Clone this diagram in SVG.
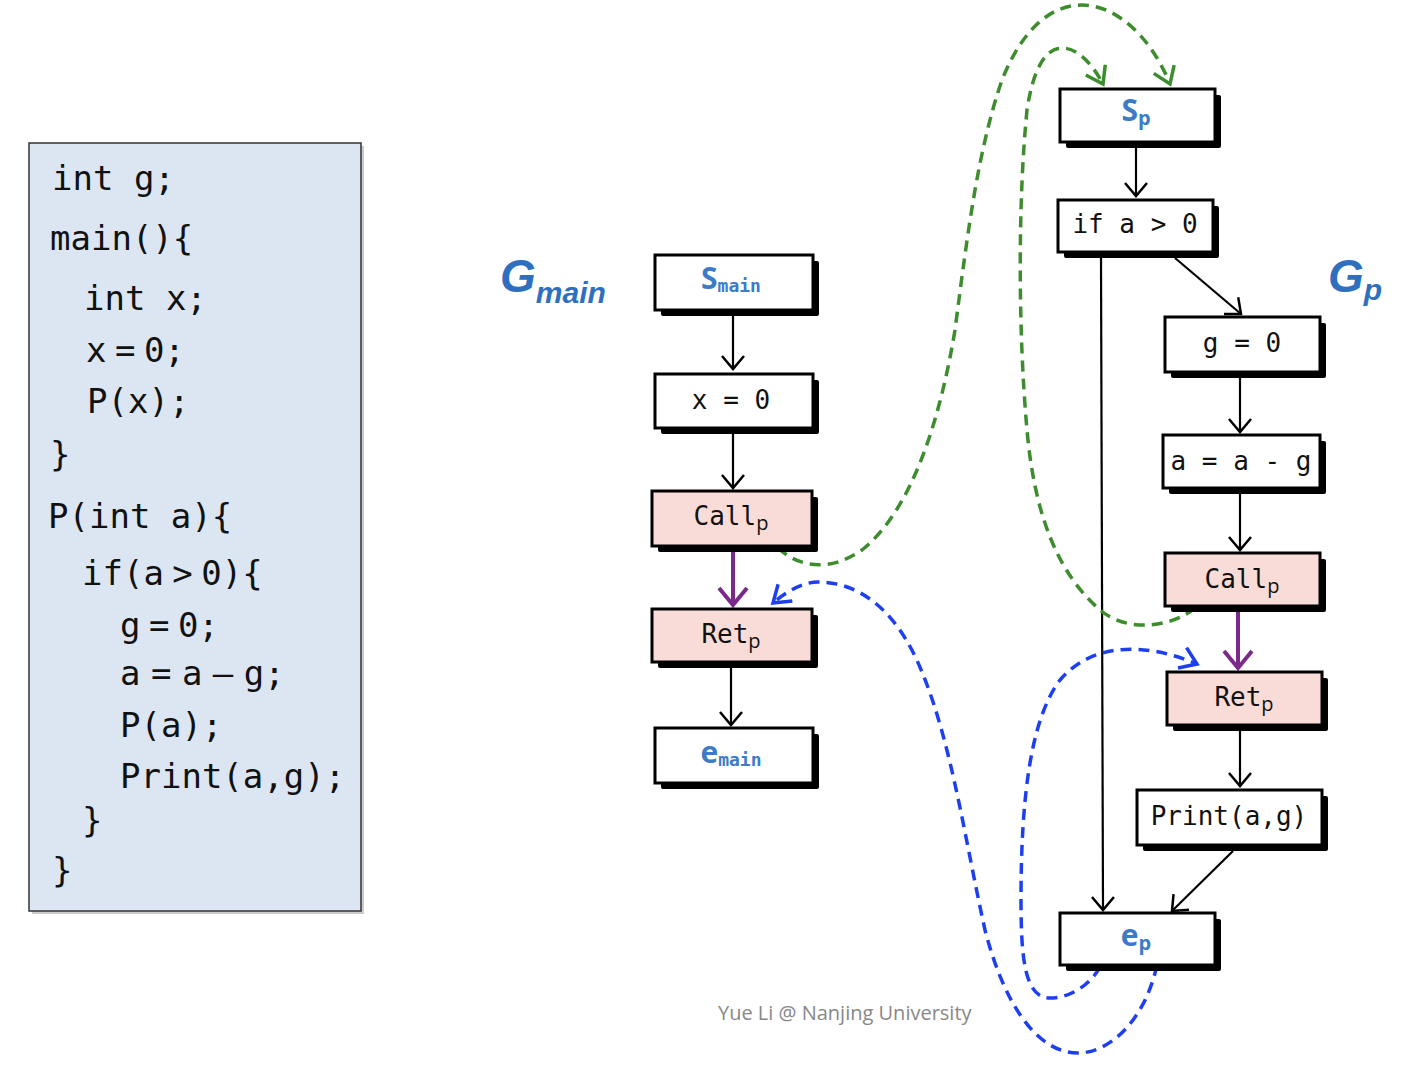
<svg xmlns="http://www.w3.org/2000/svg" width="1422" height="1070" viewBox="0 0 1422 1070">
<style>
.code{font-family:"DejaVu Sans Mono","Liberation Mono",monospace;font-size:34px;fill:#111}
.ns{word-spacing:-12px}
.ns2{word-spacing:-10px}
.box{stroke:#000;stroke-width:3}
.plain{fill:#fff}
.pink{fill:#f9dcd7}
.shadow{fill:#000}
.nt{font-family:"DejaVu Sans Mono","Liberation Mono",monospace;font-size:26px;fill:#111;text-anchor:middle}
.sub{font-family:"Open Sans","Liberation Sans",sans-serif;font-size:20px}
.bl{font-family:"Open Sans","Liberation Sans",sans-serif;font-size:30px;font-weight:bold;fill:#3b7bc8;text-anchor:middle}
.blsub{font-family:"DejaVu Sans Mono","Liberation Mono",monospace;font-size:18px;font-weight:bold}
.blp{font-family:"Open Sans","Liberation Sans",sans-serif;font-size:20px;font-weight:bold}
.g{font-family:"Liberation Sans",Arial,sans-serif;font-weight:bold;font-style:italic;fill:#2f6fbf}
.e{fill:none;stroke:#000;stroke-width:2.2}
.pu{fill:none;stroke:#7b2a8c;stroke-width:4}
.gd{fill:none;stroke:#3d8c2d;stroke-width:3.5;stroke-dasharray:11 7}
.bd{fill:none;stroke:#1e3ff0;stroke-width:3.5;stroke-dasharray:11 7}
</style>
<defs>
<marker id="ak" viewBox="0 0 16 24" refX="14" refY="12" markerWidth="16" markerHeight="24" markerUnits="userSpaceOnUse" orient="auto">
<path d="M1,1 L14,12 L1,23" fill="none" stroke="#000" stroke-width="2.5"/>
</marker>
<marker id="ap" viewBox="0 0 22 32" refX="19" refY="16" markerWidth="22" markerHeight="32" markerUnits="userSpaceOnUse" orient="auto">
<path d="M2,2 L19,16 L2,30" fill="none" stroke="#7b2a8c" stroke-width="4"/>
</marker>
<marker id="ag" viewBox="0 0 20 26" refX="17" refY="13" markerWidth="20" markerHeight="26" markerUnits="userSpaceOnUse" orient="auto">
<path d="M1,2 L17,13 L1,24" fill="none" stroke="#3d8c2d" stroke-width="3.5"/>
</marker>
<marker id="ab" viewBox="0 0 20 26" refX="17" refY="13" markerWidth="20" markerHeight="26" markerUnits="userSpaceOnUse" orient="auto">
<path d="M1,2 L17,13 L1,24" fill="none" stroke="#1e3ff0" stroke-width="3.5"/>
</marker>
</defs>
<rect width="1422" height="1070" fill="#fff"/>

<g id="code">
<rect x="32" y="146" width="332" height="768" fill="#999" opacity="0.5"/>
<rect x="29" y="143" width="332" height="768" fill="#dce6f2" stroke="#333" stroke-width="1.5"/>
<text class="code" x="52" y="190">int g;</text>
<text class="code" x="50" y="250">main(){</text>
<text class="code" x="84" y="310">int x;</text>
<text class="code ns" x="86" y="362">x = 0;</text>
<text class="code" x="87" y="413">P(x);</text>
<text class="code" x="50" y="466">}</text>
<text class="code" x="48" y="528">P(int a){</text>
<text class="code ns" x="82" y="585">if(a &gt; 0){</text>
<text class="code ns" x="120" y="637">g = 0;</text>
<text class="code ns2" x="120" y="685">a = a – g;</text>
<text class="code" x="120" y="737">P(a);</text>
<text class="code" x="120" y="788">Print(a,g);</text>
<text class="code" x="82" y="832">}</text>
<text class="code" x="52" y="882">}</text>
</g>

<g id="label-gmain"><text class="g" x="500" y="292" font-size="46">G<tspan font-size="30" dy="11">main</tspan></text></g>
<g id="label-gp"><text class="g" x="1328" y="292" font-size="46">G<tspan font-size="30" dy="8">p</tspan></text></g>

<g id="connectors">
<path class="e" d="M733,316 L733,369" marker-end="url(#ak)"/>
<path class="e" d="M733,434 L733,488" marker-end="url(#ak)"/>
<path class="pu" d="M733,546 L733,605" marker-end="url(#ap)"/>
<path class="e" d="M731,668 L731,725" marker-end="url(#ak)"/>
<path class="e" d="M1136,148 L1136,196" marker-end="url(#ak)"/>
<path class="e" d="M1175,258 L1241,314" marker-end="url(#ak)"/>
<path class="e" d="M1240,378 L1240,432" marker-end="url(#ak)"/>
<path class="e" d="M1240,494 L1240,550" marker-end="url(#ak)"/>
<path class="pu" d="M1238,606 L1238,668" marker-end="url(#ap)"/>
<path class="e" d="M1240,731 L1240,786" marker-end="url(#ak)"/>
<path class="e" d="M1233,851 L1172,911" marker-end="url(#ak)"/>
<path class="e" d="M1101,258 L1103,910" marker-end="url(#ak)"/>
<path class="gd" d="M778,548 C800,568 830,572 862,550 C912,510 940,420 955,330 C968,230 978,150 1002,80 C1022,30 1050,5 1082,5 C1115,5 1150,35 1170,84" marker-end="url(#ag)"/>
<path class="gd" d="M1195,608 C1175,625 1130,635 1100,610 C1060,575 1035,520 1027,430 C1018,330 1018,200 1027,110 C1033,70 1045,48 1062,48 C1078,48 1093,65 1103,84" marker-end="url(#ag)"/>
<path class="bd" d="M1157,965 C1145,1020 1110,1053 1078,1053 C1035,1053 1003,1000 985,930 C965,840 952,745 922,672 C895,605 855,582 818,582 C802,582 786,592 773,603" marker-end="url(#ab)"/>
<path class="bd" d="M1100,967 C1090,985 1070,998 1050,998 C1025,998 1021,960 1021,900 C1021,800 1030,720 1060,680 C1090,645 1140,640 1197,664" marker-end="url(#ab)"/>
</g>

<g id="n-smain">
<rect class="shadow" x="661" y="261" width="158" height="55" rx="2"/>
<rect class="box plain" x="655" y="255" width="158" height="55"/>
<text class="bl" x="731" y="289">S<tspan class="blsub" dy="3">main</tspan></text>
</g>
<g id="n-x0">
<rect class="shadow" x="661" y="380" width="158" height="54" rx="2"/>
<rect class="box plain" x="655" y="374" width="158" height="54"/>
<text class="nt" x="731" y="409">x = 0</text>
</g>
<g id="n-callmain">
<rect class="shadow" x="658" y="497" width="160" height="55" rx="2"/>
<rect class="box pink" x="652" y="491" width="160" height="55"/>
<text class="nt" x="731" y="525">Call<tspan class="sub" dy="5">p</tspan></text>
</g>
<g id="n-retmain">
<rect class="shadow" x="658" y="615" width="160" height="53" rx="2"/>
<rect class="box pink" x="652" y="609" width="160" height="53"/>
<text class="nt" x="731" y="643">Ret<tspan class="sub" dy="5">p</tspan></text>
</g>
<g id="n-emain">
<rect class="shadow" x="661" y="734" width="158" height="55" rx="2"/>
<rect class="box plain" x="655" y="728" width="158" height="55"/>
<text class="bl" x="731" y="763">e<tspan class="blsub" dy="3">main</tspan></text>
</g>

<g id="n-sp">
<rect class="shadow" x="1066" y="95" width="155" height="53" rx="2"/>
<rect class="box plain" x="1060" y="89" width="155" height="53"/>
<text class="bl" x="1136" y="121">S<tspan class="blp" dy="4">p</tspan></text>
</g>
<g id="n-if">
<rect class="shadow" x="1064" y="206" width="155" height="52" rx="2"/>
<rect class="box plain" x="1058" y="200" width="155" height="52"/>
<text class="nt" x="1135" y="233">if a &gt; 0</text>
</g>
<g id="n-g0">
<rect class="shadow" x="1171" y="323" width="155" height="55" rx="2"/>
<rect class="box plain" x="1165" y="317" width="155" height="55"/>
<text class="nt" x="1242" y="352">g = 0</text>
</g>
<g id="n-aag">
<rect class="shadow" x="1169" y="441" width="157" height="53" rx="2"/>
<rect class="box plain" x="1163" y="435" width="157" height="53"/>
<text class="nt" x="1241" y="470">a = a - g</text>
</g>
<g id="n-callp">
<rect class="shadow" x="1171" y="559" width="155" height="53" rx="2"/>
<rect class="box pink" x="1165" y="553" width="155" height="53"/>
<text class="nt" x="1242" y="588">Call<tspan class="sub" dy="5">p</tspan></text>
</g>
<g id="n-retp">
<rect class="shadow" x="1173" y="678" width="155" height="53" rx="2"/>
<rect class="box pink" x="1167" y="672" width="155" height="53"/>
<text class="nt" x="1244" y="706">Ret<tspan class="sub" dy="5">p</tspan></text>
</g>
<g id="n-print">
<rect class="shadow" x="1143" y="796" width="185" height="55" rx="2"/>
<rect class="box plain" x="1137" y="790" width="185" height="55"/>
<text class="nt" x="1229" y="825">Print(a,g)</text>
</g>
<g id="n-ep">
<rect class="shadow" x="1066" y="919" width="155" height="52" rx="2"/>
<rect class="box plain" x="1060" y="913" width="155" height="52"/>
<text class="bl" x="1136" y="946">e<tspan class="blp" dy="4">p</tspan></text>
</g>

<text x="718" y="1020" font-family="'Open Sans','Liberation Sans',sans-serif" font-size="20" fill="#888">Yue Li @ Nanjing University</text>
</svg>
